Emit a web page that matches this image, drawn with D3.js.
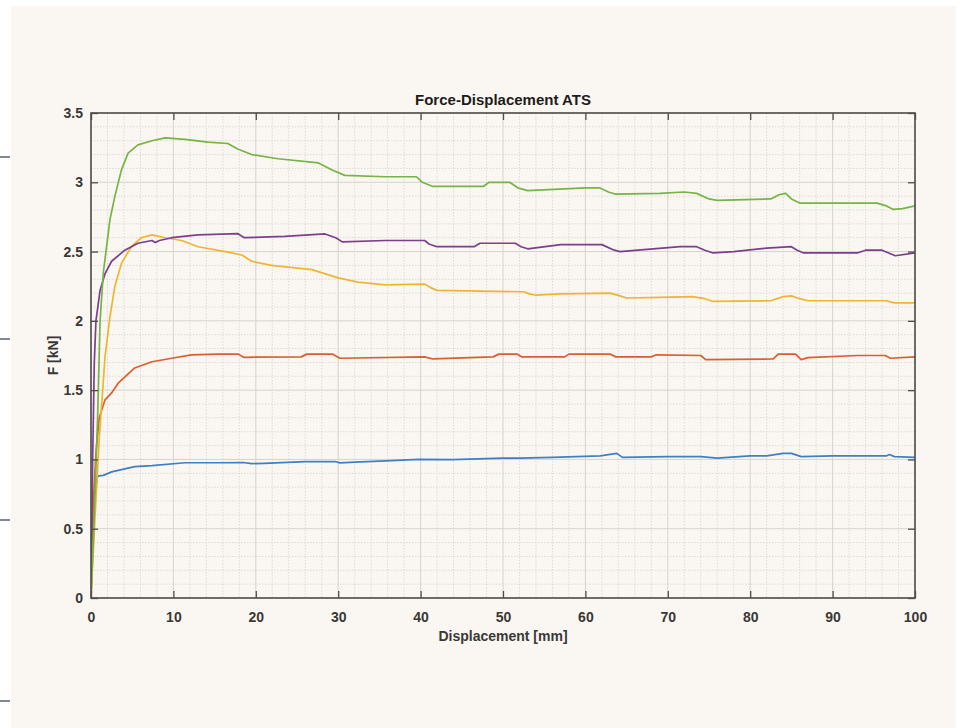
<!DOCTYPE html>
<html>
<head>
<meta charset="utf-8">
<script src="https://cdn.jsdelivr.net/npm/d3@7/dist/d3.min.js"></script>
<style>
  html, body { margin: 0; padding: 0; background: #ffffff; }
  svg { display: block; }
</style>
</head>
<body>
<svg id="chart" width="963" height="728"></svg>
<script>
// Force-displacement curves for five specimens (displacement in mm, force in kN)
const sample1X = [0,0.3,0.8,1.5,2.5,5.3,7.4,11.4,15.4,18.5,19.5,21,26,29.6,30.2,32,35.8,39.8,43.9,50,52,56,61.8,63.8,64.5,70,74,76,80,82,84,85,86.2,90,96.5,96.9,97.5,100];
const sample1F = [0,0.7,0.88,0.885,0.91,0.948,0.955,0.976,0.976,0.978,0.97,0.972,0.984,0.985,0.975,0.98,0.99,1.0,0.998,1.01,1.01,1.015,1.025,1.044,1.015,1.02,1.02,1.01,1.025,1.025,1.044,1.044,1.02,1.025,1.025,1.035,1.02,1.015];

const sample2X = [0,0.3,0.6,1.0,1.7,2.5,3.3,5.3,7.4,9.8,12.2,15.4,17.9,18.5,25.5,26.2,29.3,30.2,40.5,41.5,46,48.8,49.5,51.7,52.3,57.5,58,63,63.7,68,68.6,74,74.6,82.8,83.4,85.5,86.2,87,93,96.4,97,100];
const sample2F = [0,0.7,1.05,1.3,1.43,1.48,1.55,1.66,1.705,1.73,1.754,1.76,1.76,1.737,1.74,1.76,1.76,1.73,1.74,1.725,1.735,1.74,1.76,1.76,1.74,1.74,1.76,1.76,1.74,1.74,1.755,1.75,1.72,1.725,1.76,1.76,1.72,1.735,1.75,1.75,1.73,1.74];

const sample3X = [0,0.5,1,1.7,2.3,2.9,3.7,4.9,6.1,7.4,9,11,13,16.3,18.3,19.5,21.9,26.8,30,32.4,35.7,40.5,41.2,42,52.5,53.2,54,57,63,64.2,65,69,73,74.5,75.5,82.5,84,85,86,87,96.5,97.5,100];
const sample3F = [0,0.6,1.15,1.74,2.03,2.25,2.415,2.535,2.6,2.62,2.6,2.58,2.535,2.5,2.475,2.43,2.4,2.37,2.31,2.28,2.26,2.265,2.24,2.22,2.21,2.195,2.185,2.195,2.2,2.18,2.165,2.17,2.175,2.16,2.14,2.145,2.175,2.18,2.16,2.145,2.145,2.13,2.13];

const sample4X = [0,0.2,0.4,0.6,1.1,1.7,2.5,4.1,5.7,7.4,7.8,8.3,9.8,13,17.8,18.6,23.5,28.4,29.7,30.5,35.7,40.5,41,42,46.5,47.2,51.5,52.2,53,57,62,63.5,64.2,71.5,73.5,74.5,75.5,78,82,85,85.7,86.5,93,94,96,96.8,97.6,100];
const sample4F = [0,1.0,1.7,2.0,2.22,2.34,2.43,2.51,2.56,2.58,2.565,2.58,2.6,2.62,2.63,2.6,2.61,2.627,2.6,2.57,2.58,2.58,2.555,2.535,2.535,2.56,2.56,2.535,2.52,2.55,2.55,2.51,2.5,2.535,2.535,2.51,2.49,2.5,2.525,2.535,2.51,2.49,2.49,2.51,2.51,2.49,2.47,2.49];

const sample5X = [0,0.4,0.8,1.1,1.5,2.3,2.9,3.7,4.5,5.7,7.4,9,11.4,14.2,16.6,17.8,19.5,22.7,27.6,29.2,30.8,35.7,39.5,40.2,41.5,47.6,48.3,50.8,51.8,53,60,61.7,62.8,63.6,69,72,73.5,75,76,82.5,83.5,84.3,85,86,95.4,96.5,97.3,98.5,100];
const sample5F = [0,0.6,1.3,2.0,2.35,2.73,2.9,3.09,3.21,3.27,3.3,3.32,3.31,3.29,3.28,3.24,3.2,3.17,3.14,3.09,3.05,3.04,3.04,3.0,2.97,2.97,3.0,3.0,2.96,2.94,2.96,2.96,2.93,2.915,2.92,2.93,2.92,2.88,2.87,2.88,2.91,2.92,2.88,2.85,2.85,2.83,2.805,2.81,2.83];

const seriesColors = ["#3f7fc4", "#d95f2e", "#efb531", "#7b3f8e", "#76b443"];

// Axis ticks
const xTicks = [0,10,20,30,40,50,60,70,80,90,100];
const yTicks = [0,0.5,1,1.5,2,2.5,3,3.5];
const xMinorTicks = d3.range(0, 100.001, 2);
const yMinorTicks = d3.range(0, 35.001, 1).map(v => v / 10);

const titleText = "Force-Displacement ATS";
const xLabelText = "Displacement [mm]";
const yLabelText = "F [kN]";

const series = [
  { x: sample1X, f: sample1F },
  { x: sample2X, f: sample2F },
  { x: sample3X, f: sample3F },
  { x: sample4X, f: sample4F },
  { x: sample5X, f: sample5F }
].map((s, i) => ({ points: s.x.map((v, j) => [v, s.f[j]]), color: seriesColors[i] }));

const svg = d3.select("#chart");
const W = 963, H = 728;
const plot = { left: 91, right: 915, top: 113, bottom: 598 };

// Page panel
svg.append("rect").attr("x", 11).attr("y", 6).attr("width", 945).attr("height", H - 6).attr("fill", "#faf7f2");
// Margin rules on the left strip
[157, 339, 520, 701].forEach(y => {
  svg.append("line").attr("x1", 0).attr("x2", 10).attr("y1", y).attr("y2", y)
    .attr("stroke", "#5d5b7c").attr("stroke-width", 1.5);
});

const x = d3.scaleLinear().domain([0, 100]).range([plot.left, plot.right]);
const y = d3.scaleLinear().domain([0, 3.5]).range([plot.bottom, plot.top]);

const g = svg.append("g");
const font = "'Liberation Sans', Arial, Helvetica, sans-serif";

// Minor grid
const minor = g.append("g").attr("stroke", "#dedad4").attr("stroke-width", 1).attr("stroke-dasharray", "1.5,1.5");
xMinorTicks.filter(v => !xTicks.includes(v)).forEach(v => {
  minor.append("line").attr("x1", x(v)).attr("x2", x(v)).attr("y1", plot.top).attr("y2", plot.bottom);
});
yMinorTicks.filter(v => !yTicks.some(t => Math.abs(t - v) < 1e-9)).forEach(v => {
  minor.append("line").attr("y1", y(v)).attr("y2", y(v)).attr("x1", plot.left).attr("x2", plot.right);
});
// Major grid
const major = g.append("g").attr("stroke", "#d6d3ce").attr("stroke-width", 1);
xTicks.forEach(v => major.append("line").attr("x1", x(v)).attr("x2", x(v)).attr("y1", plot.top).attr("y2", plot.bottom));
yTicks.forEach(v => major.append("line").attr("y1", y(v)).attr("y2", y(v)).attr("x1", plot.left).attr("x2", plot.right));

// Curves
svg.append("clipPath").attr("id", "plotClip").append("rect")
  .attr("x", plot.left).attr("y", plot.top).attr("width", plot.right - plot.left).attr("height", plot.bottom - plot.top);
const line = d3.line().x(d => x(d[0])).y(d => y(d[1]));
const curves = g.append("g").attr("clip-path", "url(#plotClip)");
series.forEach(s => {
  curves.append("path").datum(s.points).attr("d", line)
    .attr("fill", "none").attr("stroke", s.color).attr("stroke-width", 1.7)
    .attr("stroke-linejoin", "round");
});

// Axes with inward ticks on all four sides
const tickLen = 7;
const axisColor = "#4f4d4b";
function styleAxis(sel) {
  sel.select(".domain").remove();
  sel.selectAll(".tick line").attr("stroke", axisColor).attr("stroke-width", 1.3);
  sel.selectAll(".tick text").attr("fill", "#3a3836").attr("font-family", font)
    .attr("font-size", 14).attr("font-weight", "bold");
}
const fmtY = d => d3.format("")(d);
g.append("g").attr("transform", `translate(0,${plot.bottom})`)
  .call(d3.axisBottom(x).tickValues(xTicks).tickSizeInner(-tickLen).tickSizeOuter(0).tickPadding(14))
  .call(styleAxis);
g.append("g").attr("transform", `translate(0,${plot.top})`)
  .call(d3.axisTop(x).tickValues(xTicks).tickSizeInner(-tickLen).tickSizeOuter(0).tickFormat(""))
  .call(styleAxis);
g.append("g").attr("transform", `translate(${plot.left},0)`)
  .call(d3.axisLeft(y).tickValues(yTicks).tickSizeInner(-tickLen).tickSizeOuter(0).tickPadding(8).tickFormat(fmtY))
  .call(styleAxis);
g.append("g").attr("transform", `translate(${plot.right},0)`)
  .call(d3.axisRight(y).tickValues(yTicks).tickSizeInner(-tickLen).tickSizeOuter(0).tickFormat(""))
  .call(styleAxis);

// Axes box
g.append("rect").attr("x", plot.left).attr("y", plot.top)
  .attr("width", plot.right - plot.left).attr("height", plot.bottom - plot.top)
  .attr("fill", "none").attr("stroke", axisColor).attr("stroke-width", 1.6);

// Title and axis labels
svg.append("text").attr("x", (plot.left + plot.right) / 2).attr("y", 105)
  .attr("text-anchor", "middle").attr("font-family", font).attr("font-size", 15)
  .attr("font-weight", "bold").attr("fill", "#1e1c1a").text(titleText);
svg.append("text").attr("x", (plot.left + plot.right) / 2).attr("y", 641)
  .attr("text-anchor", "middle").attr("font-family", font).attr("font-size", 14)
  .attr("font-weight", "bold").attr("fill", "#3a3836").text(xLabelText);
svg.append("text").attr("transform", `translate(58,${(plot.top + plot.bottom) / 2}) rotate(-90)`)
  .attr("text-anchor", "middle").attr("font-family", font).attr("font-size", 14)
  .attr("font-weight", "bold").attr("fill", "#3a3836").text(yLabelText);
</script>
</body>
</html>
